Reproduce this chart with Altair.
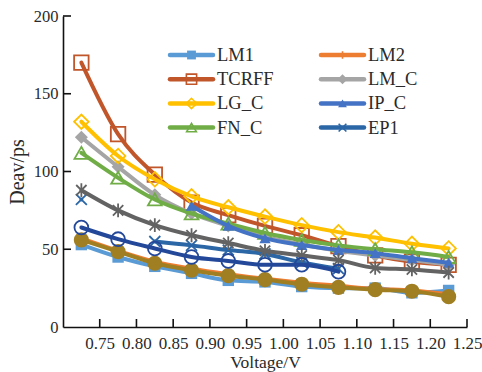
import altair as alt
import pandas as pd

FONT = "Liberation Serif"

voltage = [0.725, 0.775, 0.825, 0.875, 0.925, 0.975, 1.025, 1.075, 1.125, 1.175, 1.225]

lm1   = [53, 45, 39, 34.5, 30, 29, 26, 25, 25, 22, 23.5]
lm2   = [57, 49, 42, 37.5, 34, 31, 28.5, 26.5, 24.5, 23.5, 21]
tcrff = [170, 124, 98, 80, 72, 65, 59, 52, 46, 42, 40]
lm_c  = [122, 103, 85, 73, 65, 58, 53, 49, 46, 43, 40]
lg_c  = [132, 110, 95, 84, 77, 71, 65.5, 61, 57.5, 53.5, 50.5]
fn_c  = [112, 96, 82, 73, 66.5, 60.5, 56, 52.5, 50, 48, 45]
ip_c  = [None, None, None, 78, 65, 57, 52.7, 49.5, 47.5, 44.2, 41.3]
ep1   = [82, None, 55, 52.5, 49.5, 47, 41.5, 37.5, None, None, None]
s_star = [88, 75, 65.5, 59, 54, 49, 46, 43, 38, 37, 35]
s_gold = [56, 48.5, 41, 36.5, 33, 30.5, 27.5, 25.5, 24, 23, 19.5]
s_navy = [64, 56.5, 50.5, 45, 42.5, 40, 40, 35.6, None, None, None]

x_ticks = [0.75, 0.80, 0.85, 0.90, 0.95, 1.00, 1.05, 1.10, 1.15, 1.20, 1.25]
y_ticks = [0, 50, 100, 150, 200]

legend_col1 = ["LM1", "TCRFF", "LG_C", "FN_C"]
legend_col2 = ["LM2", "LM_C", "IP_C", "EP1"]

PLUS = "M0,-1V1M-1,0H1"
XMARK = "M-1,-1L1,1M-1,1L1,-1"
STAR = "M0,-1V1M-0.75,-0.75L0.75,0.75M-0.75,0.75L0.75,-0.75"

# name, values, color, shape, filled, size
series = [
    ("LM1", lm1, "#5B9BD5", "square", True, 130),
    ("LM2", lm2, "#ED7D31", PLUS, False, 110),
    ("TCRFF", tcrff, "#C0562A", "square", False, 210),
    ("LM_C", lm_c, "#A5A5A5", "diamond", True, 170),
    ("LG_C", lg_c, "#FFC000", "diamond", False, 210),
    ("FN_C", fn_c, "#70AD47", "triangle-up", False, 190),
    ("IP_C", ip_c, "#4472C4", "triangle-up", True, 130),
    ("EP1", ep1, "#2B66A6", XMARK, False, 120),
    ("S9", s_star, "#636363", STAR, False, 190),
    ("S10", s_gold, "#A07E22", "circle", True, 230),
    ("S11", s_navy, "#23489A", "circle", False, 190),
]

rows = []
for name, vals, *_ in series:
    for v, d in zip(voltage, vals):
        rows.append({"series": name, "voltage": v, "deav": d})
df = pd.DataFrame(rows)

W, H = 404, 311
TXT = "#2a2a2a"

x_scale = alt.Scale(domain=[0.70, 1.25], nice=False, zero=False)
y_scale = alt.Scale(domain=[0, 200], nice=False)

x_axis = alt.Axis(values=x_ticks, format=".2f", ticks=False, tickSize=0, grid=False,
                  labelOverlap=False, labelFlush=False,
                  labelFont=FONT, labelFontSize=17, labelColor=TXT, labelPadding=8,
                  domainColor="#111", domainWidth=1.6,
                  titleFont=FONT, titleFontSize=17.5, titleFontWeight="normal", titleColor=TXT,
                  titlePadding=2)
y_axis = alt.Axis(values=y_ticks, ticks=False, tickSize=0, grid=False,
                  labelOverlap=False, labelFlush=False,
                  labelFont=FONT, labelFontSize=16.5, labelColor=TXT, labelPadding=5,
                  domainColor="#111", domainWidth=1.6,
                  titleFont=FONT, titleFontSize=20, titleFontWeight="normal", titleColor=TXT,
                  titlePadding=6)

X = alt.X("voltage:Q", scale=x_scale, axis=x_axis, title="Voltage/V")
Y = alt.Y("deav:Q", scale=y_scale, axis=y_axis, title="Deav/ps")

layers = []

# inward ticks
xt = pd.DataFrame({"voltage": x_ticks})
layers.append(alt.Chart(xt).mark_rule(color="#111", strokeWidth=1.6).encode(
    x=X, y=alt.value(H - 8), y2=alt.value(H)))
yt = pd.DataFrame({"deav": y_ticks[1:]})
layers.append(alt.Chart(yt).mark_rule(color="#111", strokeWidth=1.6).encode(
    y=Y, x=alt.value(0), x2=alt.value(8)))

for name, vals, color, shape, filled, size in series:
    base = alt.Chart(df).transform_filter(alt.datum.series == name)
    layers.append(base.mark_line(color=color, strokeWidth=4, strokeCap="round",
                                 strokeJoin="round", interpolate="monotone",
                                 invalid="break-paths-filter-domains").encode(x=X, y=Y))
    if filled:
        pt = base.mark_point(shape=shape, filled=True, color=color, size=size, opacity=1)
    else:
        pt = base.mark_point(shape=shape, filled=False, color=color, size=size,
                             strokeWidth=1.8, opacity=1)
    layers.append(pt.encode(x=X, y=Y))

# manual legend (layout positions in pixels of the plot area)
info = {s[0]: s for s in series}
leg_rows = []
for col, names in enumerate([legend_col1, legend_col2]):
    for r, n in enumerate(names):
        x0 = 107 + col * 151
        leg_rows.append({"name": n, "lx0": x0, "lx1": x0 + 43, "lm": x0 + 21.5,
                         "tx": x0 + 47, "ly": 39 + r * 24.2})
leg = pd.DataFrame(leg_rows)

for n in legend_col1 + legend_col2:
    name, vals, color, shape, filled, size = info[n]
    b = alt.Chart(leg).transform_filter(alt.datum.name == n)
    layers.append(b.mark_rule(color=color, strokeWidth=4.5, strokeCap="round").encode(
        x=alt.X("lx0:Q", scale=None), x2="lx1:Q", y=alt.Y("ly:Q", scale=None)))
    if filled:
        m = b.mark_point(shape=shape, filled=True, color=color, size=size * 0.6, opacity=1)
    else:
        m = b.mark_point(shape=shape, filled=False, color=color, size=size * 0.5,
                         strokeWidth=1.6, opacity=1)
    layers.append(m.encode(x=alt.X("lm:Q", scale=None), y=alt.Y("ly:Q", scale=None)))

layers.append(alt.Chart(leg).mark_text(align="left", baseline="middle", font=FONT,
                                       fontSize=18.5, color=TXT).encode(
    x=alt.X("tx:Q", scale=None), y=alt.Y("ly:Q", scale=None), text="name:N"))

chart = alt.layer(*layers).properties(
    width=W, height=H,
    autosize=alt.AutoSizeParams(type="none"),
    padding={"left": 63, "top": 16, "right": 15, "bottom": 45},
).configure_view(stroke=None)

chart.save("out.html", embed_options={"renderer": "svg", "actions": False})
